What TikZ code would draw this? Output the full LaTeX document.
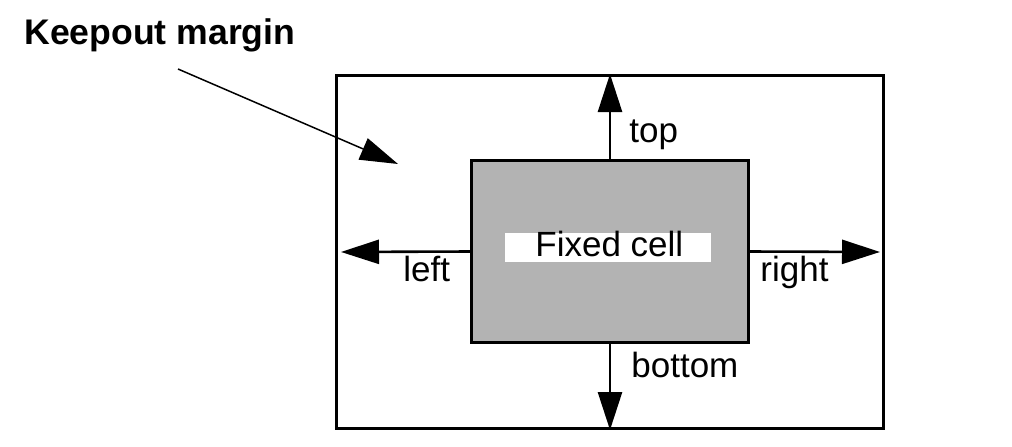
\documentclass[tikz,border=0pt]{standalone}
\usepackage{fontspec}
\setmainfont{Liberation Sans}
\usetikzlibrary{arrows.meta}
\definecolor{cellgray}{RGB}{179,179,179}
\begin{document}
\begin{tikzpicture}[x=0.5pt,y=-0.5pt,
  txt/.style={inner sep=0pt,anchor=base west,font=\fontsize{17.5}{21}\selectfont},
  bigarrow/.style={line width=1.3pt,-{Triangle[length=19pt,width=12pt]}},
  ptr/.style={line width=0.75pt,-{Triangle[length=19pt,width=11.5pt]}}]
\useasboundingbox (0,0) rectangle (1012,446);
% outer keepout box
\node[draw,line width=1.5pt,minimum width=273.5pt,minimum height=176.5pt,inner sep=0pt,anchor=north west] (margin) at (335,74) {};
% fixed cell
\node[draw,fill=cellgray,line width=1.5pt,minimum width=138.5pt,minimum height=91pt,inner sep=0pt,anchor=north west] (cell) at (470,159) {};
\node[fill=white,minimum width=103pt,minimum height=14.5pt,inner sep=0pt] (label) at (608,247.5) {};
\node[txt] (fixed) at (535,256) {Fixed cell};
% arrows
\draw[bigarrow] (cell.north) -- (margin.north);
\draw[bigarrow] (cell.south) -- (margin.south);
\draw[bigarrow,shorten >=3pt] (cell.west) -- (margin.west);
\draw[bigarrow,shorten >=2.5pt] (cell.east) -- (margin.east);
% labels
\node[txt] (top) at (629,142) {top};
\node[txt] (left) at (403,281) {left};
\node[txt] (right) at (760,281) {right};
\node[txt] (bottom) at (631,377) {bottom};
\node[txt,font=\fontsize{17.8}{21}\selectfont\bfseries] (keep) at (24,44) {Keepout margin};
\coordinate (pstart) at (178,69);
\coordinate (ptip) at (398,164);
\draw[ptr] (pstart) -- (ptip);
\end{tikzpicture}
\end{document}
